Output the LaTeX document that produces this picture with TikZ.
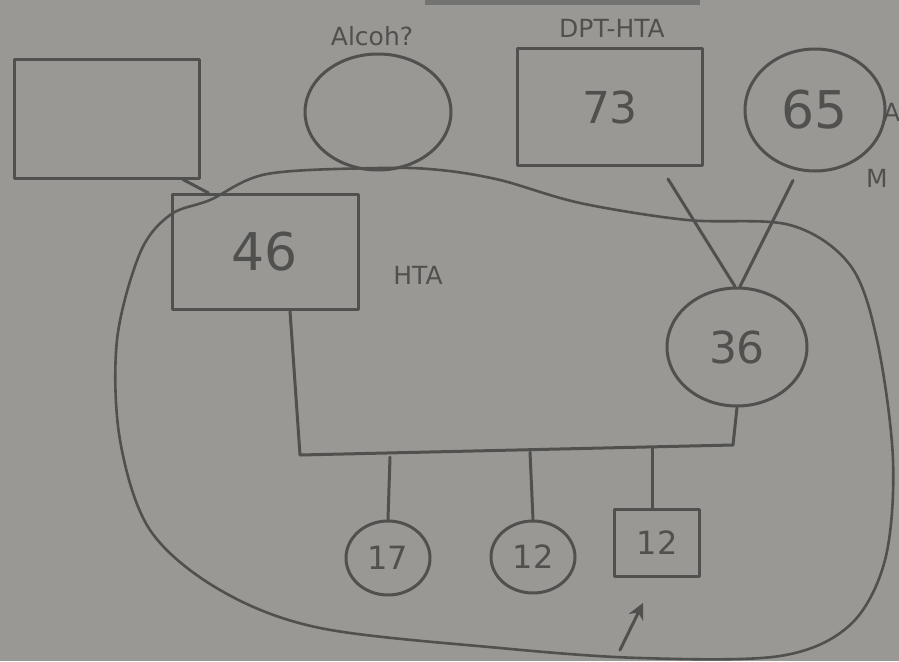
\documentclass[tikz,border=0pt]{standalone}
\usepackage{fontspec}
\setmainfont{DejaVu Sans}
\usetikzlibrary{shapes.geometric,arrows.meta,calc}
\definecolor{paper}{RGB}{154,152,148}
\definecolor{ink}{RGB}{80,80,78}
\tikzset{
  pen/.style={draw=ink, line width=3pt, line join=round, line cap=round},
  malebox/.style={pen, rectangle, inner sep=0pt, text=ink},
  femcirc/.style={pen, ellipse, inner sep=0pt, text=ink},
  lbl/.style={text=ink, inner sep=0pt, font=\fontsize{25}{27}\selectfont},
  big/.style={font=\fontsize{52}{54}\selectfont},
  mid/.style={font=\fontsize{44}{46}\selectfont},
  small/.style={font=\fontsize{32}{34}\selectfont}
}
\begin{document}
\begin{tikzpicture}[x=1pt,y=-1pt]
\fill[paper] (0,0) rectangle (899,661);
\useasboundingbox (0,0) rectangle (899,661);
\fill[ink!80] (425,0) rectangle (700,5);

% household boundary
\draw[pen, line width=2.6pt] plot[smooth cycle, tension=0.55] coordinates {
 (210,200) (267,174) (380,168) (440,170) (500,180) (580,203) (687,220)
 (790,225) (850,265) (877,340) (893,460) (885,560) (850,625) (780,656)
 (640,658) (500,648) (320,628) (220,590) (150,530) (120,440) (117,340)
 (140,253) (170,215)};

% grandparents
\node[malebox, minimum width=185pt, minimum height=118pt] (gf1) at (107,119) {};
\node[femcirc, minimum width=146pt, minimum height=116pt] (gm1) at (378,112) {};
\node[malebox, minimum width=185pt, minimum height=117pt, mid] (gf2) at (610,107) {73};
\node[femcirc, minimum width=140pt, minimum height=122pt, big] (gm2) at (815,110) {65};

% parents
\node[malebox, minimum width=186pt, minimum height=115pt, big] (p46) at (265,252) {46};
\node[femcirc, minimum width=140pt, minimum height=118pt, mid] (p36) at (737,347) {36};

% children
\node[femcirc, minimum width=84pt, minimum height=74pt, small] (c17) at (388,558) {17};
\node[femcirc, minimum width=84pt, minimum height=72pt, small] (c12) at (533,557) {12};
\node[malebox, minimum width=85pt, minimum height=67pt, small] (b12) at (657,543) {12};

% labels
\node[lbl] (lalc) at (372,36) {Alcoh?};
\node[lbl] (ldpt) at (612,28) {DPT-HTA};
\node[lbl] (lhta) at (418,275) {HTA};
\node[lbl, anchor=west] (la) at (883,112) {A};
\node[lbl, anchor=west] (lm) at (866,178) {M};

% connectors
\coordinate (gf1end) at ($(p46.north west)+(38,0)$);
\draw[pen] ($(gf1.south east)+(-18,0)$) -- (gf1end);
\coordinate (s36) at (733,445);
\coordinate (sibL) at (300,455);
\draw[pen] ($(p46.south)+(25,0)$) -- (sibL) -- (s36) -- (p36.south);
\coordinate (k1) at (390,457);
\coordinate (k2) at (530,452);
\coordinate (k3) at (652,448);
\draw[pen] (k1) -- (c17.north);
\draw[pen] (k2) -- (c12.north);
\draw[pen] (k3) -- ($(b12.north)+(-5,0)$);
\draw[pen] ($(gf2.south)+(58,12)$) -- ($(p36.north)+(-2,0)$);
\draw[pen] ($(gm2.south)+(-22,8)$) -- ($(p36.north)+(3,0)$);

% index arrow
\coordinate (atail) at (620,650);
\coordinate (ahead) at (643,603);
\draw[pen, -{Stealth[length=16pt,width=16pt]}] (atail) -- (ahead);
\end{tikzpicture}
\end{document}
